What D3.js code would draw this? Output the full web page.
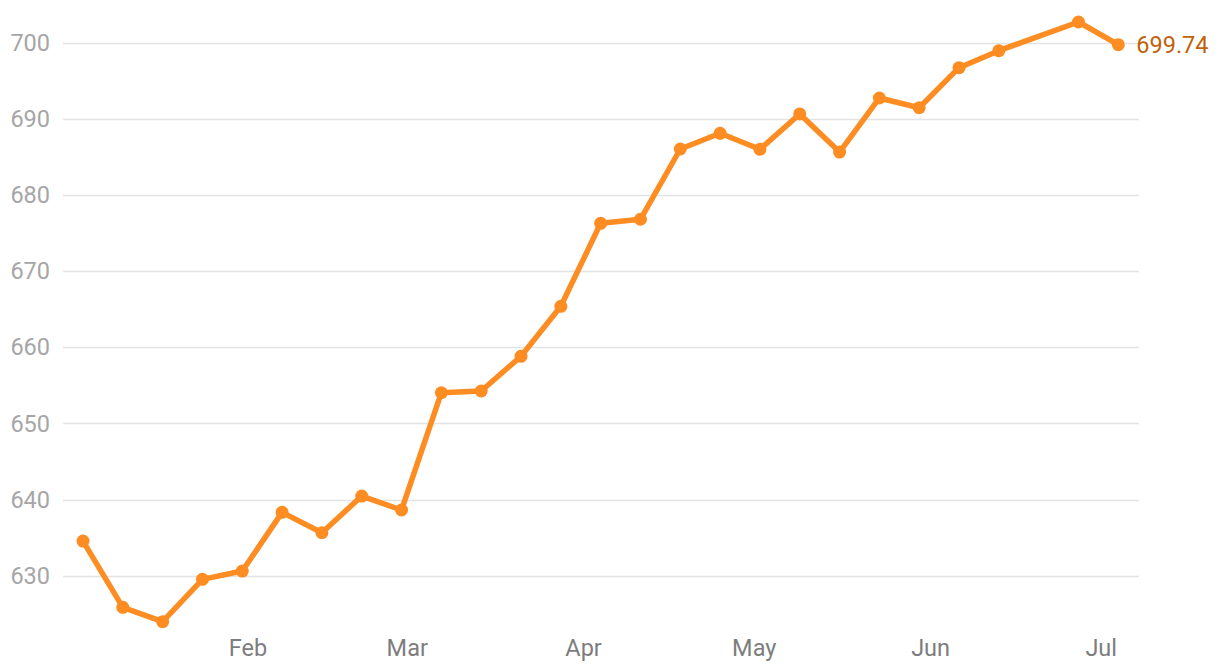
<!DOCTYPE html>
<html>
<head>
<meta charset="utf-8">
<script src="https://cdn.jsdelivr.net/npm/d3@7"></script>
<style>
  html, body { margin: 0; padding: 0; background: #fff; }
  svg { display: block; font-family: Roboto, "Noto Sans", sans-serif; }
</style>
</head>
<body>
<svg id="chart" width="1220" height="672"></svg>
<script>
// Weekly observations (2021); one week (Jun 20) missing in the source
const dates = [
  "2021-01-03","2021-01-10","2021-01-17","2021-01-24","2021-01-31",
  "2021-02-07","2021-02-14","2021-02-21","2021-02-28","2021-03-07",
  "2021-03-14","2021-03-21","2021-03-28","2021-04-04","2021-04-11",
  "2021-04-18","2021-04-25","2021-05-02","2021-05-09","2021-05-16",
  "2021-05-23","2021-05-30","2021-06-06","2021-06-13","2021-06-27",
  "2021-07-04"
];
const values = [
  634.55, 625.85, 623.96, 629.52, 630.61,
  638.32, 635.64, 640.46, 638.63, 654.03,
  654.26, 658.81, 665.38, 676.28, 676.81,
  686.04, 688.10, 686.00, 690.64, 685.64,
  692.74, 691.46, 696.72, 698.95, 702.72,
  699.74
];
const yTicks = [630, 640, 650, 660, 670, 680, 690, 700];
const monthTicks = ["2021-02-01","2021-03-01","2021-04-01","2021-05-01","2021-06-01","2021-07-01"];
const lastLabel = "699.74";

const parse = d3.utcParse("%Y-%m-%d");
const data = dates.map((d, i) => ({ date: parse(d), value: values[i] }));

const svg = d3.select("#chart");

const x = d3.scaleUtc()
  .domain([parse("2021-01-03"), parse("2021-07-04")])
  .range([83, 1118.3]);
const y = d3.scaleLinear()
  .domain([630, 700])
  .range([575.7, 42.7]);

const gridLeft = 63, gridRight = 1139;

// gridlines
svg.append("g")
  .selectAll("line")
  .data(yTicks)
  .join("line")
  .attr("x1", gridLeft)
  .attr("x2", gridRight)
  .attr("y1", d => Math.round(y(d)) + 0.5)
  .attr("y2", d => Math.round(y(d)) + 0.5)
  .attr("stroke", "#e3e3e3")
  .attr("stroke-width", 1.5);

// y tick labels
svg.append("g")
  .selectAll("text")
  .data(yTicks)
  .join("text")
  .attr("x", 50)
  .attr("y", d => y(d))
  .attr("dy", "0.35em")
  .attr("text-anchor", "end")
  .attr("fill", "#a6a6a6")
  .attr("font-size", 23.5)
  .text(d => d);

// x axis month labels
const fmt = d3.utcFormat("%b");
svg.append("g")
  .selectAll("text")
  .data(monthTicks.map(parse))
  .join("text")
  .attr("x", d => x(d))
  .attr("y", 656)
  .attr("text-anchor", "middle")
  .attr("fill", "#7d7d7d")
  .attr("font-size", 23.5)
  .text(d => fmt(d));

const orange = "#fd8d22";

// line
const line = d3.line()
  .x(d => x(d.date))
  .y(d => y(d.value));
svg.append("path")
  .datum(data)
  .attr("fill", "none")
  .attr("stroke", orange)
  .attr("stroke-width", 5.5)
  .attr("stroke-linejoin", "round")
  .attr("stroke-linecap", "round")
  .attr("d", line);

// dots
svg.append("g")
  .selectAll("circle")
  .data(data)
  .join("circle")
  .attr("cx", d => x(d.date))
  .attr("cy", d => y(d.value))
  .attr("r", 6.5)
  .attr("fill", orange);

// last value label
const last = data[data.length - 1];
svg.append("text")
  .attr("x", x(last.date) + 18)
  .attr("y", y(last.value))
  .attr("dy", "0.35em")
  .attr("fill", "#c0620c")
  .attr("font-size", 23.5)
  .text(lastLabel);
</script>
</body>
</html>
